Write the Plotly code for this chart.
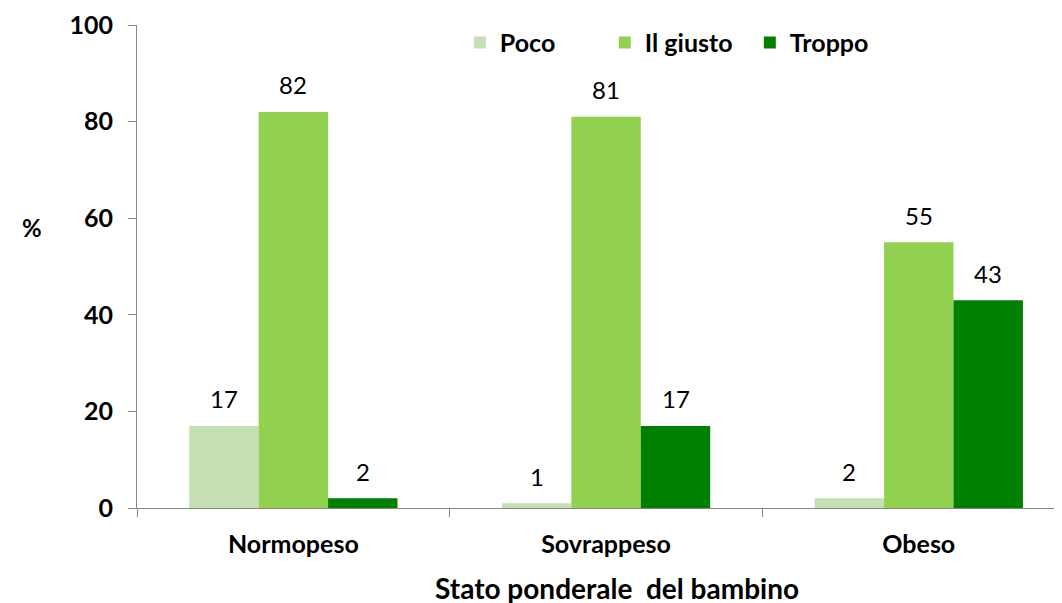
import plotly.graph_objects as go

categories = ['Normopeso', 'Sovrappeso', 'Obeso']
poco = [17, 1, 2]
giusto = [82, 81, 55]
troppo = [2, 17, 43]
y_ticks = [0, 20, 40, 60, 80, 100]

FONT = 'Lato, Carlito, Calibri, sans-serif'
series = [('Poco', poco, '#C5E0B4'),
          ('Il giusto', giusto, '#92D050'),
          ('Troppo', troppo, '#008000')]

fig = go.Figure()
for name, vals, col in series:
    fig.add_trace(go.Bar(x=categories, y=vals, name=name, marker_color=col,
                         marker_line_width=0))

# value labels sit well above the bars, so put them as annotations
bar_px = 69.5
labels = []
for i, (name, vals, col) in enumerate(series):
    for cat, v in zip(categories, vals):
        labels.append(dict(x=cat, y=v, xref='x', yref='y', text=str(v),
                           showarrow=False, xshift=(i - 1) * bar_px, yshift=27,
                           yanchor='middle', font=dict(size=24, color='black')))

# page body has an 8px margin, so the figure is shifted by that amount
fig.update_layout(
    width=1054, height=595,
    margin=dict(l=129, r=0, t=17, b=95),
    paper_bgcolor='white', plot_bgcolor='white',
    font=dict(family=FONT, color='black'),
    barmode='group', bargap=0.334, bargroupgap=0,
    showlegend=True,
    legend=dict(orientation='h', x=0.349, y=0.963, xanchor='left', yanchor='middle',
                font=dict(size=25, family=FONT, weight='bold'),
                itemwidth=30, traceorder='normal', entrywidth=100),
    xaxis=dict(range=[-0.5, 2.458], showline=True, linecolor='#868686', linewidth=1,
               ticks='outside', tickson='boundaries', ticklen=8, tickcolor='#868686',
               tickfont=dict(size=25, family=FONT, weight='bold'), showgrid=False,
               ticklabelstandoff=14),
    yaxis=dict(range=[0, 100], tickvals=y_ticks, showline=True, linecolor='#868686',
               linewidth=1, ticks='outside', ticklen=8, tickcolor='#868686',
               tickfont=dict(size=25, family=FONT, weight='bold'), showgrid=False,
               zeroline=False, ticklabelstandoff=10),
    annotations=labels + [
        dict(text='<b>%</b>', xref='paper', yref='paper', x=-0.1265, y=0.58,
             showarrow=False, font=dict(size=24)),
        dict(text='<b>Stato ponderale\u00a0\u00a0del bambino</b>', xref='paper', yref='paper',
             x=0.519, y=-0.166, yanchor='middle', showarrow=False, font=dict(size=28)),
    ],
)

fig.write_html('out.html')
